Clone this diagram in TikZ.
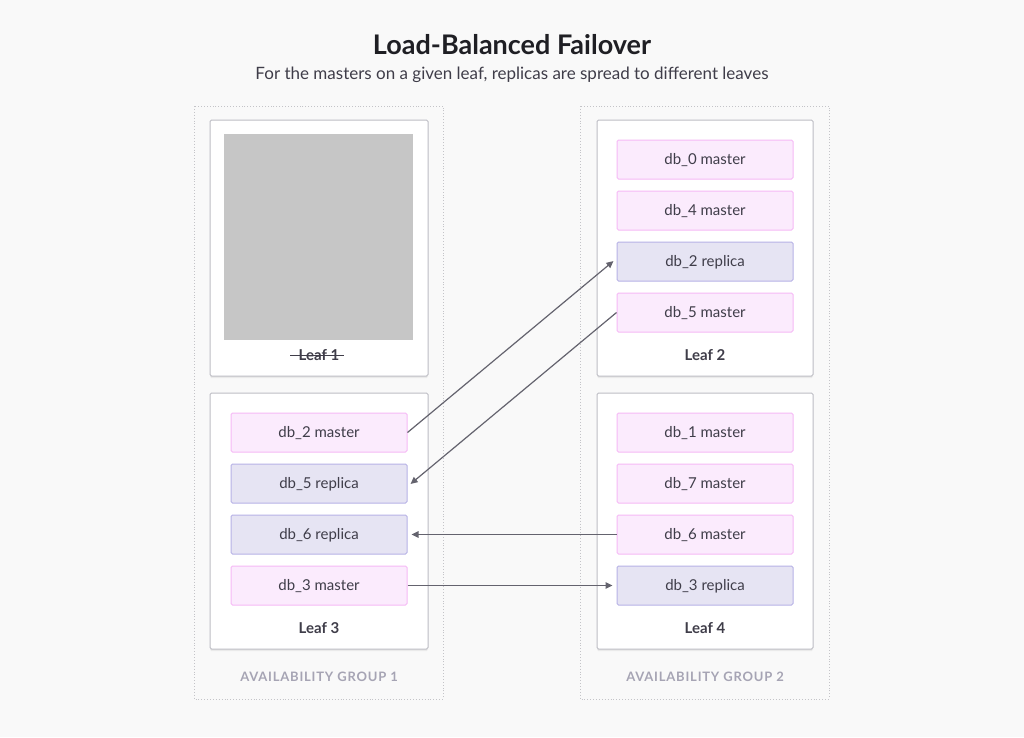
\documentclass[tikz,border=0pt]{standalone}
\usepackage{fontspec}
\setmainfont{Lato}
\usetikzlibrary{shadows,arrows.meta}
\definecolor{bg}{HTML}{F9F9F9}
\definecolor{grpline}{HTML}{C4C4C8}
\definecolor{leafline}{HTML}{BDBDC4}
\definecolor{mfill}{HTML}{FBEBFD}
\definecolor{mline}{HTML}{F6B9F6}
\definecolor{rfill}{HTML}{E6E4F3}
\definecolor{rline}{HTML}{B7B2E6}
\definecolor{txt}{HTML}{3F3D49}
\definecolor{ttl}{HTML}{1F1F24}
\definecolor{grptxt}{HTML}{A6A4B4}
\definecolor{arr}{HTML}{64636E}
\definecolor{dead}{HTML}{C6C6C6}
\tikzset{
  grp/.style={draw=grpline, dotted, line width=0.9pt},
  leafbox/.style={draw=leafline, fill=white, rounded corners=1.5pt, line width=1pt,
     drop shadow={opacity=0.12, shadow xshift=0pt, shadow yshift=-2pt}},
  dbbox/.style={rounded corners=1.5pt, line width=1pt, minimum width=176pt, minimum height=39pt,
     inner sep=0pt, text height=11pt, text depth=2pt, font=\fontsize{15}{18}\selectfont, text=txt},
  master/.style={dbbox, draw=mline, fill=mfill},
  replica/.style={dbbox, draw=rline, fill=rfill},
  leaflbl/.style={font=\bfseries\fontsize{15}{18}\selectfont, text=txt},
  grplbl/.style={font=\bfseries\fontsize{13}{15}\selectfont\addfontfeatures{LetterSpace=6}, text=grptxt},
  link/.style={draw=arr, line width=1.2pt, -{Triangle[length=7pt,width=6.5pt]}, shorten >=4pt}
}
\begin{document}
\begin{tikzpicture}[x=1pt,y=-1pt]
\fill[bg] (0,0) rectangle (1024,737);
\useasboundingbox (0,0) rectangle (1024,737);
% title
\node[font=\bfseries\fontsize{27}{32}\selectfont, text=ttl] (title) at (512,45) {Load-Balanced Failover};
\node[font=\fontsize{17}{20}\selectfont, text=txt] (sub) at (512,75) {For the masters on a given leaf, replicas are spread to different leaves};
% groups
\draw[grp] (194,106) rectangle (443,699);
\draw[grp] (580,106) rectangle (829,699);
\node[grplbl] (g1) at (319,677) {AVAILABILITY GROUP 1};
\node[grplbl] (g2) at (705,677) {AVAILABILITY GROUP 2};
% leaves
\path[leafbox] (210,120) rectangle (428,376);
\path[leafbox] (597,120) rectangle (813,376);
\path[leafbox] (210,393) rectangle (428,649);
\path[leafbox] (597,393) rectangle (813,649);
\fill[dead] (224,134) rectangle (413,340);
\node[leaflbl] (l1) at (319,355) {Leaf 1};
\draw[txt, line width=1.1pt] ([xshift=-5pt]l1.base west) ++(0,-4.8) -- ++(54,0);
\node[leaflbl] (l2) at (705,355) {Leaf 2};
\node[leaflbl] (l3) at (319,628) {Leaf 3};
\node[leaflbl] (l4) at (705,628) {Leaf 4};
% leaf 2
\node[master]  (m0)  at (705,159.5) {db\_0 master};
\node[master]  (m4)  at (705,210.5) {db\_4 master};
\node[replica] (r2)  at (705,261.5) {db\_2 replica};
\node[master]  (m5)  at (705,312.5) {db\_5 master};
% leaf 3
\node[master]  (m2)  at (319,432.5) {db\_2 master};
\node[replica] (r5)  at (319,483.5) {db\_5 replica};
\node[replica] (r6)  at (319,534.5) {db\_6 replica};
\node[master]  (m3)  at (319,585.5) {db\_3 master};
% leaf 4
\node[master]  (m1)  at (705,432.5) {db\_1 master};
\node[master]  (m7)  at (705,483.5) {db\_7 master};
\node[master]  (m6)  at (705,534.5) {db\_6 master};
\node[replica] (r3)  at (705,585.5) {db\_3 replica};
% links
\draw[link] (m2.east) -- ([yshift=3pt]r2.west);
\draw[link] (m5.west) -- ([yshift=-3pt]r5.east);
\draw[link] (m6.west) -- (r6.east);
\draw[link] (m3.east) -- (r3.west);
\end{tikzpicture}
\end{document}
